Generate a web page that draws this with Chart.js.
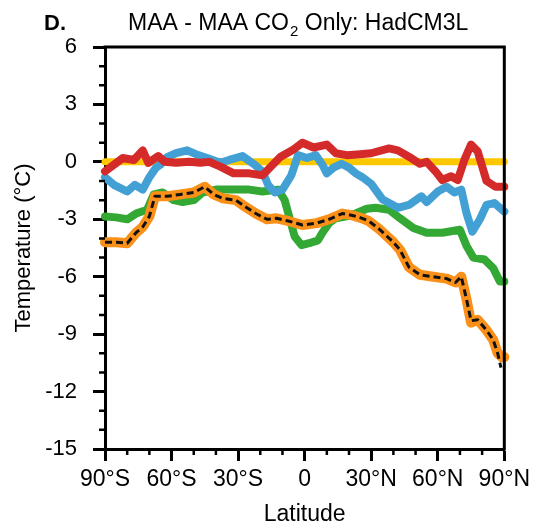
<!DOCTYPE html>
<html>
<head>
<meta charset="utf-8">
<script src="https://cdn.jsdelivr.net/npm/chart.js@4"></script>
<style>
  html, body { margin: 0; padding: 0; background: #fff; }
  #wrap { width: 535px; height: 529px; }
</style>
</head>
<body>
<div id="wrap"><canvas id="tempChart" width="535" height="529"></canvas></div>
<script>
// zonal mean temperature difference (°C) vs latitude
const yellowLat = [-90, 90];
const yellowTemp = [0, 0];

const redLat  = [-90, -86, -82, -77, -73, -70.5, -66, -63, -58, -52, -47, -43, -38, -32, -25, -19, -11, -5, -1, 4, 10, 14, 19, 25, 30, 38, 42, 48, 52, 55, 59, 62, 66, 69, 72, 75, 78, 82, 86, 90];
const redTemp = [-0.5, -0.15, 0.2, 0.1, 0.6, -0.05, 0.3, 0, -0.05, 0, -0.05, 0, -0.25, -0.6, -0.6, -0.7, 0.25, 0.65, 1.0, 0.75, 0.9, 0.45, 0.35, 0.4, 0.45, 0.7, 0.6, 0.2, -0.1, 0.0, -0.5, -0.95, -0.75, -0.95, 0.1, 0.9, 0.55, -1.0, -1.3, -1.3];

const blueLat  = [-90, -86, -80, -76.5, -73, -70, -67, -65, -62, -58, -53, -49, -44, -38, -34, -28, -22.5, -19, -16.5, -13.5, -10, -6, -3, 1, 5, 8, 10, 13, 16.6, 20, 23, 26, 30, 35, 42, 47, 52.6, 55, 60, 64, 67.5, 70.6, 73, 75.6, 79, 82, 85.5, 90];
const blueTemp = [-0.8, -1.2, -1.55, -1.2, -1.45, -0.8, -0.3, -0.15, 0.25, 0.45, 0.6, 0.4, 0.2, -0.05, 0.1, 0.3, -0.15, -0.5, -1.2, -1.6, -1.45, -0.7, 0.35, 0.2, 0.35, -0.15, -0.6, -0.3, -0.1, -0.3, -0.6, -0.8, -1.15, -1.95, -2.4, -2.25, -1.8, -2.1, -1.55, -1.3, -1.6, -1.45, -2.7, -3.65, -3.0, -2.25, -2.15, -2.6];

const greenLat  = [-90, -85, -80, -76, -71, -68, -64, -59, -55, -50, -46, -40, -32, -25, -19, -12, -9, -7, -4.5, -1.4, 2, 6, 8, 11, 14, 19, 23, 28, 32, 38, 43, 49, 55, 62, 70, 73, 76, 81, 85, 88, 90];
const greenTemp = [-2.85, -2.9, -3.0, -2.7, -2.5, -1.7, -1.6, -2.0, -2.1, -2.0, -1.6, -1.45, -1.45, -1.45, -1.55, -1.45, -2.0, -2.85, -3.9, -4.35, -4.25, -4.1, -3.7, -3.2, -2.95, -2.85, -2.7, -2.45, -2.4, -2.5, -2.95, -3.45, -3.7, -3.7, -3.55, -4.4, -5.0, -5.1, -5.55, -6.25, -6.25];

const orangeLat  = [-90, -85, -80, -76, -73, -70, -67.5, -62, -56, -50, -45, -41, -37, -31, -28, -22, -17, -12.6, -7, -1, 5.4, 11, 17, 21.6, 26, 29, 34, 40, 43, 47, 52, 58, 64, 68, 70.6, 73, 75, 78, 82, 85, 87, 89, 90];
const orangeTemp = [-4.2, -4.2, -4.25, -3.7, -3.4, -2.85, -1.8, -1.8, -1.7, -1.6, -1.3, -1.7, -1.9, -2.0, -2.25, -2.7, -3.0, -2.95, -3.1, -3.3, -3.2, -3.0, -2.7, -2.8, -2.95, -3.1, -3.55, -4.2, -4.6, -5.5, -5.9, -6.0, -6.1, -6.3, -6.0, -7.2, -8.4, -8.25, -8.8, -9.3, -10.0, -10.2, -10.2];

const blackLat  = [-90, -85, -80, -76, -73, -70, -67.5, -62, -56, -50, -45, -41, -37, -31, -28, -22, -17, -12.6, -7, -1, 5.4, 11, 17, 21.6, 26, 29, 34, 40, 43, 47, 52, 58, 64, 68, 70.6, 73, 75, 78, 82, 85, 87, 88.5];
const blackTemp = [-4.2, -4.2, -4.25, -3.7, -3.4, -2.85, -1.8, -1.8, -1.7, -1.6, -1.3, -1.7, -1.9, -2.0, -2.25, -2.7, -3.0, -2.95, -3.1, -3.3, -3.2, -3.0, -2.7, -2.8, -2.95, -3.1, -3.55, -4.2, -4.6, -5.5, -5.9, -6.0, -6.1, -6.3, -6.0, -7.2, -8.3, -8.25, -8.8, -9.3, -10.0, -10.75];

const latTicks = [-90, -60, -30, 0, 30, 60, 90];
const latLabels = ['90°S', '60°S', '30°S', '0', '30°N', '60°N', '90°N'];

const FONT = "'Liberation Sans', Arial, sans-serif";

function pts(xs, ys) {
  return xs.map((x, i) => ({ x: x, y: ys[i] }));
}

function series(xs, ys, color, width, order, dash) {
  return {
    data: pts(xs, ys),
    borderColor: color,
    borderWidth: width,
    borderDash: dash || [],
    borderCapStyle: dash ? 'butt' : 'round',
    borderJoinStyle: 'round',
    pointRadius: 0,
    fill: false,
    tension: 0,
    order: order,
    clip: 6
  };
}

// frame, minor ticks and panel title
const extras = {
  id: 'extras',
  afterDraw(chart) {
    const ctx = chart.ctx;
    const a = chart.chartArea;
    const xs = chart.scales.x, ys = chart.scales.y;
    ctx.save();
    ctx.strokeStyle = '#000';
    ctx.lineWidth = 3;
    ctx.beginPath();
    ctx.moveTo(a.left - 1.5, a.top);
    ctx.lineTo(a.right, a.top);
    ctx.lineTo(a.right, a.bottom + 1.5);
    ctx.stroke();

    ctx.lineWidth = 2.5;
    ctx.beginPath();
    for (let v = -15; v <= 6; v++) {
      if (v % 3 === 0) continue;
      const py = ys.getPixelForValue(v);
      ctx.moveTo(a.left, py);
      ctx.lineTo(a.left - 6, py);
    }
    for (let v = -90; v <= 90; v += 10) {
      if (v % 30 === 0) continue;
      const px = xs.getPixelForValue(v);
      ctx.moveTo(px, a.bottom);
      ctx.lineTo(px, a.bottom + 6);
    }
    ctx.stroke();

    ctx.fillStyle = '#000';
    ctx.textBaseline = 'alphabetic';
    ctx.textAlign = 'left';
    ctx.font = 'bold 22px ' + FONT;
    ctx.fillText('D.', 44, 30);
    ctx.font = '23px ' + FONT;
    let x = 128;
    const t1 = 'MAA - MAA CO';
    ctx.fillText(t1, x, 30);
    x += ctx.measureText(t1).width;
    ctx.font = '15px ' + FONT;
    ctx.fillText('2', x + 1, 36);
    x += ctx.measureText('2').width + 1;
    ctx.font = '23px ' + FONT;
    ctx.fillText(' Only: HadCM3L', x, 30);
    ctx.restore();
  }
};

new Chart(document.getElementById('tempChart').getContext('2d'), {
  type: 'line',
  data: {
    datasets: [
      series(yellowLat, yellowTemp, '#fdc800', 7, 6),
      series(greenLat, greenTemp, '#33a834', 8, 5),
      series(orangeLat, orangeTemp, '#fb9019', 10, 4),
      series(blackLat, blackTemp, '#111', 3, 3, [7, 4]),
      series(blueLat, blueTemp, '#42a0d4', 8, 2),
      series(redLat, redTemp, '#d42a2a', 8, 1)
    ]
  },
  options: {
    responsive: false,
    animation: false,
    devicePixelRatio: 1,
    layout: { padding: { top: 47, right: 30, left: 0, bottom: 0 } },
    plugins: { legend: { display: false }, tooltip: { enabled: false } },
    scales: {
      x: {
        type: 'linear',
        min: -90,
        max: 90,
        afterFit: s => { s.height = 80; },
        afterBuildTicks: s => { s.ticks = latTicks.map(v => ({ value: v })); },
        ticks: {
          color: '#000',
          font: { size: 23, family: FONT },
          padding: 5,
          maxRotation: 0,
          autoSkip: false,
          callback: v => latLabels[latTicks.indexOf(v)]
        },
        grid: { drawOnChartArea: false, tickLength: 12, tickWidth: 3, tickColor: '#000' },
        border: { display: true, color: '#000', width: 3 },
        title: { display: true, text: 'Latitude', color: '#000', font: { size: 23, family: FONT }, padding: { top: 0, bottom: 1 } }
      },
      y: {
        min: -15,
        max: 6,
        afterFit: s => { s.width = 105; },
        ticks: {
          stepSize: 3,
          color: '#000',
          font: { size: 22, family: FONT },
          padding: 16
        },
        grid: { drawOnChartArea: false, tickLength: 12, tickWidth: 3, tickColor: '#000' },
        border: { display: true, color: '#000', width: 3 },
        title: { display: true, text: 'Temperature (°C)', color: '#000', font: { size: 22, family: FONT }, padding: { top: 11, bottom: 0 } }
      }
    }
  },
  plugins: [extras]
});
</script>
</body>
</html>
